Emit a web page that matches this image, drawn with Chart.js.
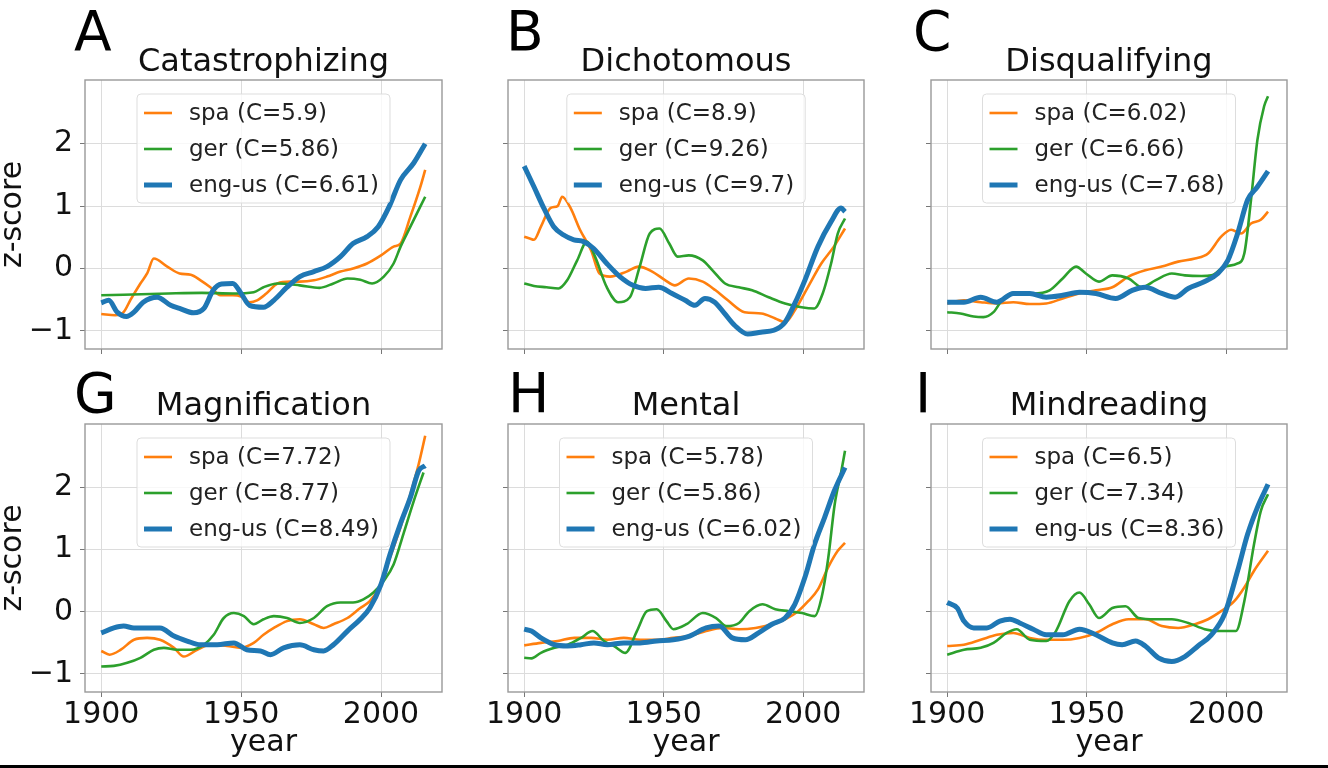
<!DOCTYPE html>
<html><head><meta charset="utf-8">
<script src="https://cdn.jsdelivr.net/npm/chart.js@4/dist/chart.umd.min.js"></script>
<style>
html,body{margin:0;padding:0;background:#fff;width:1328px;height:768px;overflow:hidden;}
canvas{position:absolute;left:0;top:0;}
#bar{position:absolute;left:0;top:765px;width:1328px;height:3px;background:#000;}
</style></head><body>
<div id="wrap"></div>
<div id="bar"></div>
<script>
// ---- data: [year, z-score] pairs ----
const A_spa = [[1900,-0.73],[1905,-0.75],[1908,-0.7],[1910.5,-0.5],[1914,-0.24],[1916.4,-0.08],[1918.8,0.16],[1923.6,0.03],[1928,-0.08],[1932,-0.1],[1935.5,-0.19],[1939,-0.3],[1942.6,-0.43],[1947,-0.43],[1950,-0.45],[1953,-0.54],[1955.7,-0.51],[1959,-0.4],[1963,-0.24],[1967.6,-0.21],[1971,-0.21],[1976,-0.19],[1980.7,-0.13],[1985.5,-0.05],[1990,0],[1995,0.08],[2000,0.21],[2004.5,0.35],[2007,0.4],[2010.5,0.83],[2014,1.3],[2015.8,1.58]];
const A_ger = [[1900,-0.43],[1924,-0.4],[1936,-0.39],[1947,-0.4],[1954.5,-0.38],[1958,-0.3],[1963,-0.24],[1971,-0.27],[1978,-0.31],[1983,-0.24],[1988,-0.16],[1992.6,-0.18],[1996.8,-0.24],[2001,-0.13],[2004.5,0.08],[2007,0.35],[2010.5,0.67],[2015.8,1.15]];
const A_eng = [[1900,-0.55],[1902.7,-0.51],[1905.7,-0.7],[1909,-0.77],[1911.7,-0.7],[1915,-0.54],[1920,-0.46],[1924.8,-0.59],[1928,-0.64],[1933,-0.71],[1936.7,-0.64],[1940,-0.35],[1943,-0.25],[1947,-0.24],[1950,-0.4],[1953,-0.59],[1958,-0.62],[1961.7,-0.51],[1966.4,-0.3],[1971,-0.13],[1976,-0.05],[1980.7,0.03],[1985.5,0.19],[1990,0.4],[1995,0.51],[1999,0.67],[2003,1.0],[2007,1.42],[2011.7,1.69],[2015.8,2.0]];

const B_spa = [[1900,0.51],[1902,0.48],[1903.5,0.46],[1906,0.67],[1909.5,0.97],[1912,1.0],[1913.6,1.15],[1916.6,0.97],[1920,0.62],[1924,0.29],[1927,-0.08],[1930.8,-0.13],[1936.7,-0.05],[1941,0.03],[1945.9,-0.05],[1950.6,-0.19],[1954,-0.27],[1959,-0.16],[1964,-0.21],[1968.6,-0.35],[1973,-0.51],[1979,-0.7],[1985,-0.72],[1990,-0.8],[1993.5,-0.86],[1997,-0.67],[2001.8,-0.29],[2006.5,0.08],[2011,0.35],[2015,0.64]];
const B_ger = [[1900,-0.24],[1903.5,-0.28],[1908,-0.3],[1912.3,-0.32],[1915.4,-0.19],[1919,0.13],[1922.5,0.43],[1925.4,0.19],[1929.6,-0.3],[1933.7,-0.54],[1937.9,-0.46],[1941.4,0.03],[1945,0.56],[1948.5,0.64],[1952,0.4],[1955,0.19],[1959,0.21],[1964,0.13],[1967.5,-0.03],[1972,-0.24],[1976.9,-0.3],[1981.7,-0.35],[1987.6,-0.46],[1993.5,-0.56],[1999.4,-0.62],[2004,-0.64],[2007,-0.4],[2010,0.08],[2012.4,0.56],[2015,0.8]];
const B_eng = [[1900,1.64],[1903.5,1.31],[1907,0.97],[1910.6,0.67],[1914,0.54],[1917.8,0.46],[1921.3,0.43],[1924.9,0.32],[1929.6,0.08],[1934.3,-0.13],[1939,-0.27],[1943.5,-0.32],[1948.2,-0.3],[1953,-0.4],[1957.7,-0.51],[1961.2,-0.59],[1964.8,-0.48],[1968.3,-0.54],[1971.8,-0.72],[1975.4,-0.91],[1980.1,-1.05],[1984.8,-1.02],[1989.5,-0.99],[1993.5,-0.86],[1997,-0.56],[2000.6,-0.19],[2005.3,0.35],[2010,0.75],[2013.6,0.97],[2015,0.91]];

const C_spa = [[1900,-0.56],[1906,-0.51],[1912,-0.54],[1917.8,-0.56],[1923.7,-0.54],[1929.6,-0.57],[1935.5,-0.56],[1941.4,-0.48],[1947.4,-0.4],[1953.3,-0.35],[1959.2,-0.3],[1965,-0.13],[1971,-0.03],[1976.9,0.03],[1982.8,0.11],[1988.8,0.16],[1993.5,0.24],[1998.2,0.51],[2001.8,0.62],[2005.3,0.56],[2008.9,0.72],[2012.4,0.78],[2015,0.91]];
const C_ger = [[1900,-0.7],[1904.7,-0.72],[1909.5,-0.77],[1913,-0.78],[1916.6,-0.7],[1920.1,-0.48],[1924.9,-0.38],[1930.8,-0.4],[1936.7,-0.35],[1941.4,-0.16],[1946.2,0.03],[1949.7,-0.08],[1954.4,-0.21],[1959.2,-0.11],[1965,-0.16],[1969.8,-0.3],[1974.6,-0.19],[1980.5,-0.08],[1985.2,-0.11],[1991.1,-0.12],[1994.7,-0.11],[1999.4,0.03],[2004.1,0.08],[2006.5,0.24],[2008.9,1.1],[2011.2,2.06],[2013.6,2.6],[2015,2.76]];
const C_eng = [[1900,-0.54],[1906,-0.54],[1912,-0.46],[1917.8,-0.54],[1923.7,-0.4],[1929.6,-0.4],[1935.5,-0.46],[1941.4,-0.43],[1947.4,-0.38],[1953.3,-0.4],[1960.4,-0.48],[1966.3,-0.35],[1971,-0.3],[1976.9,-0.4],[1981.7,-0.46],[1986.4,-0.32],[1992.3,-0.21],[1997,-0.08],[2000.6,0.13],[2004.1,0.56],[2007.7,1.1],[2011.2,1.31],[2015,1.56]];

const G_spa = [[1900,-0.63],[1903,-0.69],[1907,-0.61],[1911.7,-0.45],[1916.4,-0.42],[1921,-0.45],[1926,-0.58],[1929.5,-0.72],[1934.3,-0.61],[1939,-0.53],[1945,-0.55],[1950,-0.58],[1954.5,-0.5],[1958,-0.37],[1961.7,-0.26],[1966.4,-0.15],[1971,-0.12],[1976,-0.2],[1979.5,-0.26],[1983,-0.2],[1988,-0.1],[1992.6,0.06],[1996,0.17],[2000,0.44],[2003.2,0.87],[2006.9,1.35],[2010.5,1.89],[2013.5,2.38],[2015.8,2.83]];
const G_ger = [[1900,-0.88],[1904.5,-0.87],[1909.3,-0.82],[1914,-0.74],[1918.8,-0.61],[1922.4,-0.58],[1927,-0.61],[1932,-0.61],[1936.7,-0.53],[1940.2,-0.37],[1943.8,-0.1],[1947.4,-0.02],[1951,-0.07],[1954.5,-0.2],[1958,-0.12],[1961.7,-0.07],[1966.4,-0.1],[1971,-0.18],[1976,-0.1],[1980.7,0.09],[1985.5,0.15],[1990,0.15],[1993.7,0.2],[1997.3,0.31],[2000.9,0.49],[2004.5,0.76],[2008,1.25],[2011.7,1.78],[2015.2,2.24]];
const G_eng = [[1900,-0.34],[1904.5,-0.26],[1908,-0.23],[1911.7,-0.26],[1916.4,-0.26],[1921,-0.26],[1926,-0.39],[1930.7,-0.47],[1935.5,-0.53],[1941.4,-0.53],[1947.4,-0.5],[1952,-0.61],[1956.9,-0.63],[1960.5,-0.69],[1965.2,-0.58],[1971,-0.53],[1976,-0.61],[1979.5,-0.63],[1983,-0.53],[1988,-0.31],[1992.6,-0.12],[1996,0.06],[2000,0.44],[2003.2,0.92],[2006.9,1.41],[2010.5,1.84],[2013.5,2.27],[2015.8,2.35]];

const H_spa = [[1900,-0.54],[1906,-0.5],[1912,-0.47],[1918,-0.42],[1924,-0.42],[1929.8,-0.45],[1935.7,-0.42],[1941.6,-0.45],[1947.5,-0.45],[1953.4,-0.42],[1959.3,-0.39],[1965.2,-0.31],[1971,-0.26],[1977,-0.28],[1982.9,-0.26],[1988.8,-0.2],[1993.5,-0.12],[1998.2,0.01],[2001.8,0.17],[2005.3,0.36],[2008.9,0.71],[2012.4,0.98],[2015,1.11]];
const H_ger = [[1900,-0.74],[1902.6,-0.75],[1906,-0.66],[1910.9,-0.58],[1915.6,-0.53],[1920.4,-0.42],[1924.5,-0.31],[1928.6,-0.47],[1932.2,-0.55],[1936.3,-0.66],[1940.4,-0.31],[1944,0.01],[1947.5,0.04],[1951,-0.15],[1953.5,-0.28],[1958.2,-0.2],[1964,-0.02],[1968.8,-0.1],[1972.4,-0.23],[1977,-0.18],[1980.7,0.01],[1985.4,0.12],[1990,0.04],[1994.9,0.01],[1999.6,-0.02],[2004.1,-0.07],[2006.6,0.23],[2009,0.87],[2011.3,1.73],[2013.7,2.27],[2015,2.59]];
const H_eng = [[1900,-0.28],[1902.6,-0.31],[1906,-0.42],[1910.9,-0.53],[1915.6,-0.55],[1920.4,-0.53],[1925,-0.5],[1929.8,-0.53],[1935.7,-0.5],[1941.6,-0.5],[1947.5,-0.47],[1953.4,-0.45],[1959.3,-0.39],[1965.2,-0.26],[1969.9,-0.23],[1974.6,-0.42],[1979.3,-0.45],[1984,-0.34],[1988.8,-0.2],[1993.5,-0.1],[1997,0.12],[2000.6,0.55],[2004.1,1.09],[2007.7,1.52],[2011.2,1.95],[2015,2.32]];

const I_spa = [[1900,-0.55],[1906,-0.53],[1912,-0.45],[1917.8,-0.37],[1923.7,-0.34],[1929.6,-0.42],[1935.5,-0.45],[1941.4,-0.45],[1947.4,-0.42],[1953.3,-0.34],[1959.2,-0.2],[1965,-0.12],[1971,-0.12],[1976.9,-0.23],[1982.8,-0.26],[1988.8,-0.2],[1993.5,-0.12],[1998.2,0.01],[2002.9,0.17],[2006.5,0.39],[2010,0.66],[2015,0.98]];
const I_ger = [[1900,-0.69],[1906,-0.61],[1912,-0.58],[1916.6,-0.5],[1921.3,-0.34],[1924.9,-0.28],[1929.6,-0.45],[1935.5,-0.47],[1939,-0.31],[1943.8,0.17],[1947.4,0.31],[1950.9,0.12],[1954.4,-0.1],[1959.2,0.06],[1963.9,0.09],[1968.6,-0.1],[1974.6,-0.12],[1980.5,-0.12],[1986.4,-0.18],[1992.3,-0.28],[1997,-0.31],[2003.5,-0.31],[2006.5,0.17],[2010,1.09],[2012.4,1.62],[2015,1.89]];
const I_eng = [[1900,0.15],[1903.6,0.06],[1906,-0.15],[1909.5,-0.26],[1914.2,-0.26],[1918.9,-0.15],[1922.5,-0.12],[1926,-0.18],[1930.8,-0.28],[1935.5,-0.37],[1941.4,-0.37],[1947.4,-0.28],[1953.3,-0.37],[1959.2,-0.5],[1962.7,-0.53],[1967.5,-0.47],[1971,-0.55],[1975.7,-0.74],[1980.5,-0.8],[1985.2,-0.72],[1989.9,-0.55],[1994.7,-0.37],[1999.4,-0.04],[2004.1,0.66],[2007.7,1.25],[2011.2,1.68],[2015,2.05]];

const panelLetters = ['A','B','C','G','H','I'];
const panelTitles = ['Catastrophizing','Dichotomous','Disqualifying','Magnification','Mental','Mindreading'];
const seriesNames = ['spa','ger','eng-us'];
const cValues = [['5.9','5.86','6.61'],['8.9','9.26','9.7'],['6.02','6.66','7.68'],['7.72','8.77','8.49'],['5.78','5.86','6.02'],['6.5','7.34','8.36']];
const panelSeries = [[A_spa,A_ger,A_eng],[B_spa,B_ger,B_eng],[C_spa,C_ger,C_eng],[G_spa,G_ger,G_eng],[H_spa,H_ger,H_eng],[I_spa,I_ger,I_eng]];
const xTickValues = [1900, 1950, 2000];
const yTickValues = [-1, 0, 1, 2];

// ---- layout / style (not data) ----
const W = 1328, H = 768;
const FONT = "'DejaVu Sans', sans-serif";
const colors = ['#ff7f0e', '#2ca02c', '#1f77b4'];
const widths = [2.6, 2.6, 5];
const plotBoxes = [[85,80,442,349],[508,80,864,349],[931,80,1287,349],[85,424,442,692],[508,424,864,692],[931,424,1287,692]];
const letterX = [74, 506, 913, 74, 508, 915];
const letterBase = [50, 50, 50, 412, 412, 412];

Chart.defaults.font.family = FONT;

const decor = {
  id: 'decor',
  afterDatasetsDraw(chart, args, opts) {
    const ctx = chart.ctx, a = chart.chartArea;
    ctx.save();
    // frame
    ctx.strokeStyle = '#999999';
    ctx.lineWidth = 1.4;
    ctx.strokeRect(a.left, a.top, a.right - a.left, a.bottom - a.top);
    // legend (upper center)
    ctx.font = '23px ' + FONT;
    const ds = chart.data.datasets;
    const order = [0,1,2];
    let tw = 0;
    order.forEach(i => { tw = Math.max(tw, ctx.measureText(ds[i].label).width); });
    const bw = 7 + 28 + 17 + tw + 11, bh = 109;
    const cx = (a.left + a.right) / 2;
    const bx = cx - bw / 2, by = a.top + 14;
    ctx.beginPath();
    ctx.roundRect(bx, by, bw, bh, 4);
    ctx.fillStyle = 'rgba(255,255,255,0.8)';
    ctx.fill();
    ctx.strokeStyle = '#dddddd';
    ctx.lineWidth = 1;
    ctx.stroke();
    order.forEach((i, k) => {
      const yy = by + 19 + k * 36;
      ctx.beginPath();
      ctx.strokeStyle = ds[i].borderColor;
      ctx.lineWidth = ds[i].borderWidth;
      ctx.moveTo(bx + 7, yy); ctx.lineTo(bx + 35, yy);
      ctx.stroke();
      ctx.fillStyle = '#222';
      ctx.textBaseline = 'middle';
      ctx.textAlign = 'left';
      ctx.fillText(ds[i].label, bx + 52, yy + 1);
    });
    // title
    ctx.fillStyle = '#111';
    ctx.font = '32px ' + FONT;
    ctx.textAlign = 'center';
    ctx.textBaseline = 'alphabetic';
    ctx.fillText(opts.title, cx, a.top - 9.5);
    // panel letter
    ctx.font = '55px ' + FONT;
    ctx.textAlign = 'left';
    ctx.fillStyle = '#000';
    ctx.fillText(opts.letter, opts.letterX, opts.letterBase);
    ctx.restore();
  }
};

const wrap = document.getElementById('wrap');
panelLetters.forEach((L, p) => {
  const cv = document.createElement('canvas');
  cv.width = W; cv.height = H;
  cv.style.width = W + 'px'; cv.style.height = H + 'px';
  wrap.appendChild(cv);
  const [l, t, r, b] = plotBoxes[p];
  const col = p % 3, row = Math.floor(p / 3);
  const yW = col === 0 ? 85 : 12;
  const xH = row === 1 ? H - b : 12;
  const datasets = panelSeries[p].map((s, i) => ({
    label: seriesNames[i] + ' (C=' + cValues[p][i] + ')',
    data: s.map(d => ({x: d[0], y: d[1]})),
    borderColor: colors[i],
    borderWidth: widths[i],
    pointRadius: 0,
    fill: false,
    cubicInterpolationMode: 'monotone',
    order: 2 - i
  }));
  new Chart(cv, {
    type: 'line',
    data: { datasets },
    plugins: [decor],
    options: {
      responsive: false,
      maintainAspectRatio: false,
      animation: false,
      devicePixelRatio: 1,
      layout: { padding: { left: l - yW, right: W - r, top: t, bottom: H - b - xH } },
      plugins: {
        legend: { display: false },
        tooltip: { enabled: false },
        decor: { title: panelTitles[p], letter: L, letterX: letterX[p], letterBase: letterBase[p] }
      },
      scales: {
        x: {
          type: 'linear', min: 1894.2, max: 2021.8,
          afterBuildTicks: s => { s.ticks = xTickValues.map(v => ({ value: v })); },
          afterFit: s => { s.height = xH; },
          ticks: { display: row === 1, color: '#111', font: { size: 30 }, padding: 0, maxRotation: 0, autoSkip: false,
                   callback: v => String(v) },
          grid: { color: '#dcdcdc', lineWidth: 1, tickLength: 5, tickColor: '#777', drawTicks: true },
          border: { display: false },
          title: { display: row === 1, text: 'year', color: '#111', font: { size: 30 }, padding: { top: 0, bottom: 7 } }
        },
        y: {
          type: 'linear', min: -1.29, max: 3.02,
          afterBuildTicks: s => { s.ticks = yTickValues.map(v => ({ value: v })); },
          afterFit: s => { s.width = yW; },
          ticks: { display: col === 0, color: '#111', font: { size: 30 }, padding: 7,
                   callback: v => (v < 0 ? '\u2212' + Math.abs(v) : String(v)) },
          grid: { color: '#dcdcdc', lineWidth: 1, tickLength: 5, tickColor: '#777', drawTicks: true },
          border: { display: false },
          title: { display: col === 0, text: 'z-score', color: '#111', font: { size: 30, lineHeight: 0.85 }, padding: { top: 0, bottom: 0 } }
        }
      }
    }
  });
});
</script>
</body></html>
